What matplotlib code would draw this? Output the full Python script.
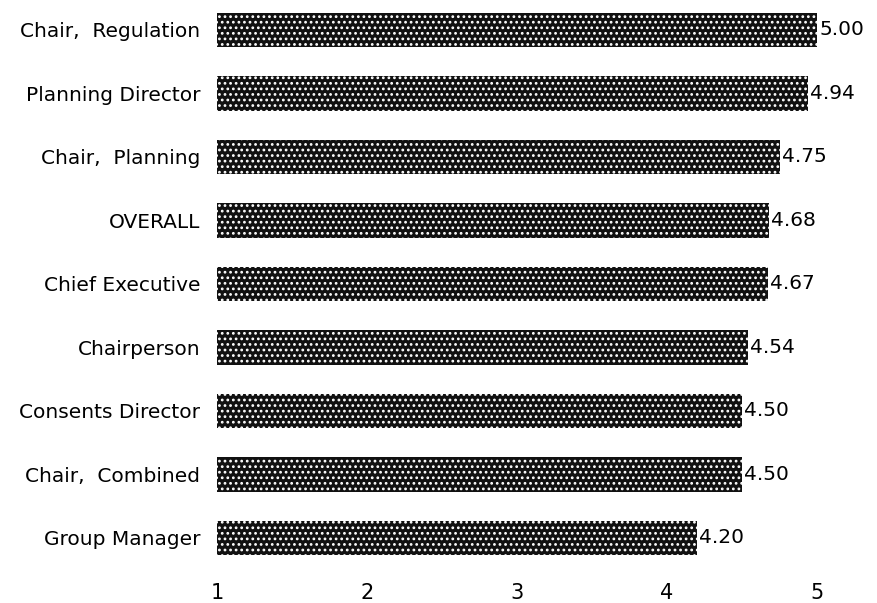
import numpy as np
import matplotlib
matplotlib.use("Agg")
import matplotlib.pyplot as plt

plt.rcParams['font.family'] = 'DejaVu Sans'
plt.rcParams['hatch.color'] = 'white'
plt.rcParams['hatch.linewidth'] = 1.2

# data, top to bottom
roles = ["Chair,  Regulation", "Planning Director", "Chair,  Planning", "OVERALL",
         "Chief Executive", "Chairperson", "Consents Director", "Chair,  Combined",
         "Group Manager"]
scores = [5.00, 4.94, 4.75, 4.68, 4.67, 4.54, 4.50, 4.50, 4.20]
ticks = [1, 2, 3, 4, 5]

fig = plt.figure(figsize=(8.77, 6.03), dpi=100)
# axes: x=1 at px 217, 150 px per unit; rows every 63.5 px starting at 30
ax = fig.add_axes([217/877, 1 - 577/603, 660/877, 577/603])

ypos = np.arange(len(roles))
ax.barh(ypos, np.array(scores) - 1, left=1, height=0.55, color='#111111',
        edgecolor='white', linewidth=0, hatch='...')

for y, v in zip(ypos, scores):
    ax.text(v + 0.015, y, f"{v:.2f}", va='center', ha='left', fontsize=14.5)

ax.set_xlim(1, 1 + 660/150)
ax.set_ylim((577 - 30)/63.5, -30/63.5)
ax.set_yticks(ypos)
ax.set_yticklabels(roles, fontsize=14.5)
ax.set_xticks(ticks)
ax.set_xticklabels([str(t) for t in ticks], fontsize=15)
ax.tick_params(axis='y', length=0, pad=12)
ax.tick_params(axis='x', length=0, pad=4)
for s in ax.spines.values():
    s.set_visible(False)

fig.savefig("out.png", dpi=100)
